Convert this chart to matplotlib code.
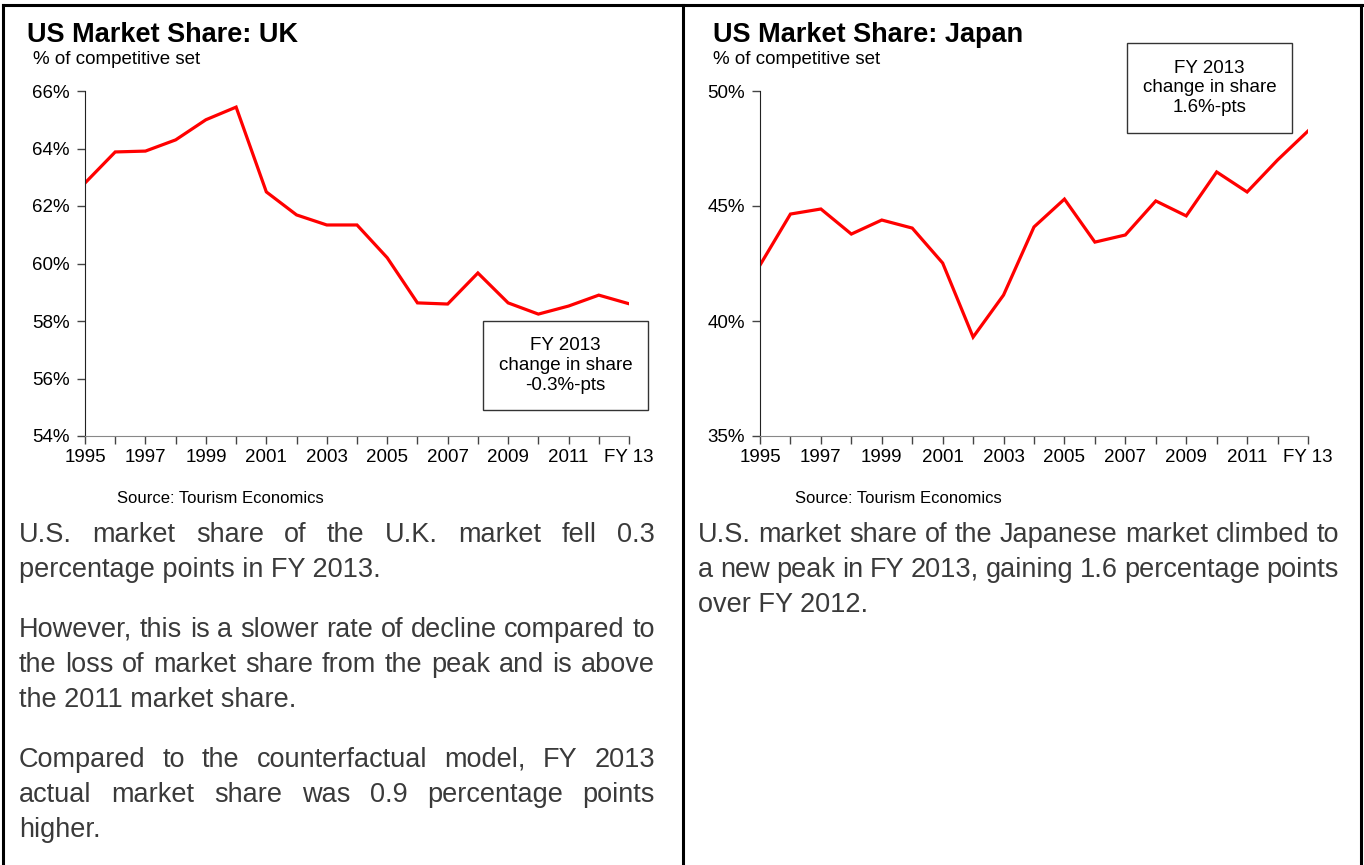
import numpy as np
import matplotlib
matplotlib.use("Agg")
import matplotlib.pyplot as plt
from matplotlib.lines import Line2D

plt.rcParams['font.family'] = ['Liberation Sans', 'DejaVu Sans']

# Data
years = list(range(1995, 2014))
uk_share = [62.8, 63.88, 63.91, 64.3, 65.0, 65.44, 62.49, 61.69, 61.34, 61.34,
            60.2, 58.63, 58.59, 59.67, 58.63, 58.24, 58.52, 58.9, 58.6]
japan_share = [42.43, 44.65, 44.87, 43.78, 44.39, 44.04, 42.52, 39.3, 41.13, 44.09,
               45.3, 43.43, 43.74, 45.22, 44.57, 46.48, 45.61, 47.0, 48.26]
tick_years = [1995, 1997, 1999, 2001, 2003, 2005, 2007, 2009, 2011, 2013]
tick_labels = ['1995', '1997', '1999', '2001', '2003', '2005', '2007', '2009', '2011', 'FY 13']

uk_yticks = [54, 56, 58, 60, 62, 64, 66]
jp_yticks = [35, 40, 45, 50]

uk_box = "FY 2013\nchange in share\n-0.3%-pts"
jp_box = "FY 2013\nchange in share\n1.6%-pts"

# paragraphs as the lines they wrap into in the reference
uk_paras = [
    ["U.S. market share of the U.K. market fell 0.3",
     "percentage points in FY 2013."],
    ["However, this is a slower rate of decline compared to",
     "the loss of market share from the peak and is above",
     "the 2011 market share."],
    ["Compared to the counterfactual model, FY 2013",
     "actual market share was 0.9 percentage points",
     "higher."],
]
jp_paras = [
    ["U.S. market share of the Japanese market climbed to",
     "a new peak in FY 2013, gaining 1.6 percentage points",
     "over FY 2012."],
]

W, H = 1364, 865
fig = plt.figure(figsize=(W / 100, H / 100), dpi=100)


def fx(px):
    return px / W


def fy(py):
    return 1 - py / H


def make_chart(x0, x1, y_top, y_bot, values, yticks, fmt):
    ax = fig.add_axes([fx(x0), fy(y_bot), fx(x1 - x0), fy(y_top) - fy(y_bot)])
    ax.plot(years, values, color='#ff0000', lw=2.3, solid_joinstyle='miter')
    ax.set_xlim(1995, 2013)
    ax.set_ylim(yticks[0], yticks[-1])
    ax.set_xticks(years)
    ax.set_xticklabels([tick_labels[tick_years.index(y)] if y in tick_years else '' for y in years])
    ax.set_yticks(yticks)
    ax.set_yticklabels([fmt % v for v in yticks])
    for s in ['top', 'right']:
        ax.spines[s].set_visible(False)
    ax.spines['left'].set_color('#222222')
    ax.spines['bottom'].set_color('#888888')
    ax.tick_params(axis='both', direction='out', length=6, width=1, color='#444444',
                   labelsize=13.5, labelcolor='black')
    ax.tick_params(axis='x', pad=3)
    ax.tick_params(axis='y', pad=5)
    return ax


make_chart(85, 629, 91, 436, uk_share, uk_yticks, '%d%%')
make_chart(760, 1308, 91, 436, japan_share, jp_yticks, '%d%%')

# titles
fig.text(fx(27), fy(35), "US Market Share: UK", fontsize=19.5, fontweight='bold', va='center', ha='left')
fig.text(fx(33), fy(59), "% of competitive set", fontsize=13.5, va='center', ha='left')
fig.text(fx(713), fy(35), "US Market Share: Japan", fontsize=19.5, fontweight='bold', va='center', ha='left')
fig.text(fx(713), fy(59), "% of competitive set", fontsize=13.5, va='center', ha='left')

# annotation boxes
for (bx0, by0, bx1, by1, txt) in [(483, 321, 648, 410, uk_box), (1127, 43, 1292, 133, jp_box)]:
    rect = plt.Rectangle((fx(bx0), fy(by1)), fx(bx1 - bx0), fy(by0) - fy(by1), transform=fig.transFigure,
                         fill=True, facecolor='white', edgecolor='#333333', lw=1.0, zorder=5)
    fig.add_artist(rect)
    fig.text(fx((bx0 + bx1) / 2), fy((by0 + by1) / 2), txt, ha='center', va='center',
             fontsize=13.5, linespacing=1.2, zorder=6)

# source notes
fig.text(fx(117), fy(498), "Source: Tourism Economics", fontsize=12, va='center', ha='left')
fig.text(fx(795), fy(498), "Source: Tourism Economics", fontsize=12, va='center', ha='left')

# borders
for (xa, ya, xb, yb) in [(3, 5, 1362, 5), (3, 5, 3, 865), (683, 5, 683, 865), (1361, 5, 1361, 865)]:
    fig.add_artist(Line2D([fx(xa), fx(xb)], [fy(ya), fy(yb)], color='black', lw=2.2))

# justified paragraphs
renderer = fig.canvas.get_renderer()
body_color = '#3a3a3a'


def text_width(s, size):
    t = fig.text(0, 0, s, fontsize=size)
    w = t.get_window_extent(renderer).width
    t.remove()
    return w


# pick the body size so the widest reference line fills the column
body_size = 19.0 * 641 / text_width("U.S. market share of the Japanese market climbed to", 19.0)


def draw_paragraphs(paras, x0, x1, y_start, line_h, para_gap):
    y = y_start
    width = x1 - x0
    for para in paras:
        for i, line in enumerate(para):
            words = line.split()
            if i == len(para) - 1 or len(words) == 1:
                fig.text(fx(x0), fy(y), line, fontsize=body_size,
                         color=body_color, va='center', ha='left')
            else:
                widths = [text_width(w, body_size) for w in words]
                gap = (width - sum(widths)) / (len(words) - 1)
                x = x0
                for w, ww in zip(words, widths):
                    fig.text(fx(x), fy(y), w, fontsize=body_size, color=body_color, va='center', ha='left')
                    x += ww + gap
            y += line_h
        y += para_gap


draw_paragraphs(uk_paras, 19, 655, 535, 35, 25)
draw_paragraphs(jp_paras, 698, 1339, 535, 35, 25)

fig.savefig("out.png", dpi=100)
